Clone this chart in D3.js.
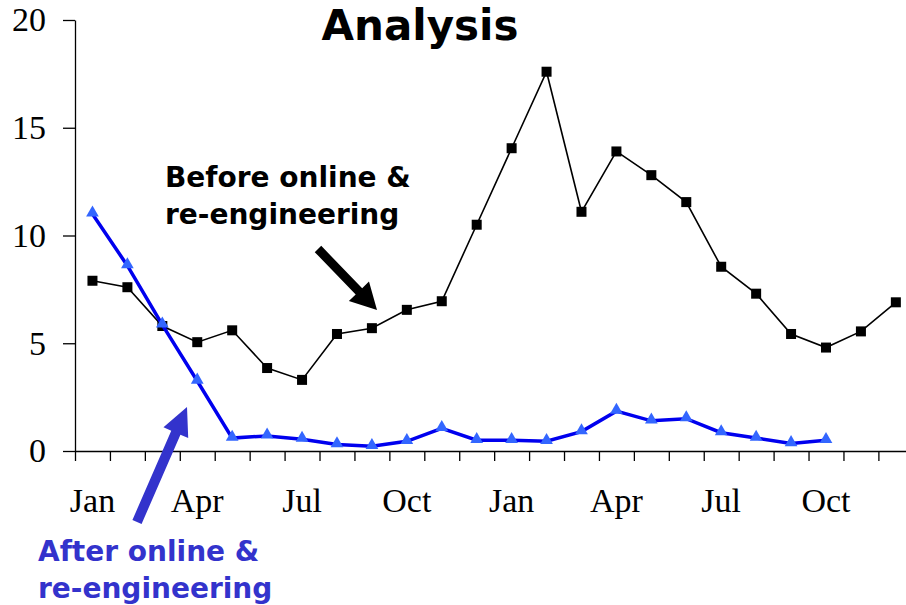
<!DOCTYPE html>
<html>
<head>
<meta charset="utf-8">
<script src="https://cdn.jsdelivr.net/npm/d3@7"></script>
<style>
  body { margin: 0; background: #fff; }
  svg { display: block; }
</style>
</head>
<body>
<div id="chart"></div>
<script>
const fig_width = 906
const fig_height = 605

// 24 months, two years
const month_names = ["Jan","Feb","Mar","Apr","May","Jun","Jul","Aug","Sep","Oct","Nov","Dec"]
const label_months = [0, 3, 6, 9, 12, 15, 18, 21]
const y_ticks = [0, 5, 10, 15, 20]

// before online & re-engineering (full 24 months)
const before_values = [7.9, 7.6, 5.8, 5.05, 5.6, 3.85, 3.3, 5.43, 5.7, 6.55, 6.95, 10.5,
    14.05, 17.6, 11.1, 13.9, 12.8, 11.55, 8.55, 7.3, 5.43, 4.8, 5.55, 6.9]
// after online & re-engineering (Jan .. Oct of second year)
const after_values = [11.0, 8.6, 5.85, 3.25, 0.6, 0.7, 0.55, 0.3, 0.22, 0.45, 1.05, 0.5,
    0.5, 0.45, 0.9, 1.85, 1.4, 1.5, 0.85, 0.6, 0.35, 0.5]

const margin = {left: 75, top: 20, bottom: 154}
const step = 34.93

let svg = d3.select("#chart")
    .append('svg')
    .attr('width', fig_width)
    .attr('height', fig_height)

let x_edge = d3.scaleLinear()
    .domain([0, 24])
    .range([margin.left, margin.left + 24 * step])
let x_band = d3.scaleBand()
    .domain(d3.range(24))
    .range([margin.left, margin.left + 24 * step])
let x_mid = i => x_band(i) + x_band.bandwidth() / 2

let y = d3.scaleLinear()
    .domain([0, 20])
    .range([fig_height - margin.bottom, margin.top])

const serif = "'Liberation Serif', 'Times New Roman', serif"
const sans = "'DejaVu Sans', Verdana, sans-serif"

// y axis
let yAxis = svg.append('g')
    .attr('transform', `translate(${margin.left},0)`)
    .call(d3.axisLeft(y).tickValues(y_ticks).tickSize(12).tickSizeOuter(0).tickPadding(17))
yAxis.selectAll('text')
    .style('font-family', serif)
    .style('font-size', '34px')
    .attr('fill', '#000')
yAxis.selectAll('line, path').attr('stroke', '#000').attr('stroke-width', 1.3)

// x axis: ticks on month boundaries, labels in the middle of the month
let xAxis = svg.append('g')
    .attr('transform', `translate(0,${y(0)})`)
    .call(d3.axisBottom(x_edge).tickValues(d3.range(25)).tickSize(10).tickSizeOuter(0).tickFormat(""))
xAxis.selectAll('line, path').attr('stroke', '#000').attr('stroke-width', 1.3)

let xLabels = svg.append('g')
    .attr('transform', `translate(0,${y(0)})`)
    .call(d3.axisBottom(x_band).tickValues(label_months).tickSize(0).tickPadding(37)
        .tickFormat(i => month_names[i % 12]))
xLabels.select('path').remove()
xLabels.selectAll('text')
    .style('font-family', serif)
    .style('font-size', '34px')
    .attr('fill', '#000')

// title
svg.append('text')
    .attr('x', 420)
    .attr('y', 40)
    .attr('text-anchor', 'middle')
    .style('font-family', sans)
    .style('font-weight', 'bold')
    .style('font-size', '42px')
    .text('Analysis')

// lines
let line_gen = d3.line()
    .x((d, i) => x_mid(i))
    .y(d => y(d))

svg.append('path')
    .datum(before_values)
    .attr('d', line_gen)
    .attr('fill', 'none')
    .attr('stroke', '#000')
    .attr('stroke-width', 1.6)

svg.selectAll('rect.before')
    .data(before_values)
    .join('rect')
    .attr('class', 'before')
    .attr('x', (d, i) => x_mid(i) - 5)
    .attr('y', d => y(d) - 5)
    .attr('width', 10)
    .attr('height', 10)
    .attr('fill', '#000')

svg.append('path')
    .datum(after_values)
    .attr('d', line_gen)
    .attr('fill', 'none')
    .attr('stroke', '#0000ee')
    .attr('stroke-width', 3.5)

let tri = d3.symbol().type(d3.symbolTriangle).size(70)
svg.selectAll('path.after')
    .data(after_values)
    .join('path')
    .attr('class', 'after')
    .attr('d', tri)
    .attr('transform', (d, i) => `translate(${x_mid(i)},${y(d) - 1})`)
    .attr('fill', '#3366ff')

// annotations
function arrow(x1, y1, x2, y2, shaft, headLen, headW, colour) {
    let dx = x2 - x1, dy = y2 - y1
    let len = Math.sqrt(dx * dx + dy * dy)
    let ux = dx / len, uy = dy / len
    let px = -uy, py = ux
    let bx = x2 - ux * headLen, by = y2 - uy * headLen
    let pts = [
        [x1 + px * shaft / 2, y1 + py * shaft / 2],
        [bx + px * shaft / 2, by + py * shaft / 2],
        [bx + px * headW / 2, by + py * headW / 2],
        [x2, y2],
        [bx - px * headW / 2, by - py * headW / 2],
        [bx - px * shaft / 2, by - py * shaft / 2],
        [x1 - px * shaft / 2, y1 - py * shaft / 2]
    ]
    svg.append('polygon')
        .attr('points', pts.map(p => p.join(',')).join(' '))
        .attr('fill', colour)
}

arrow(318, 249, 377, 310, 9, 26, 28, '#000')
arrow(137, 522, 187, 407, 10, 28, 27, '#3333cc')

let before_lbl = svg.append('text')
    .style('font-family', sans)
    .style('font-weight', 'bold')
    .style('font-size', '28px')
    .attr('fill', '#000')
before_lbl.append('tspan').attr('x', 165).attr('y', 187).text('Before online &')
before_lbl.append('tspan').attr('x', 165).attr('y', 224).text('re-engineering')

let after_lbl = svg.append('text')
    .style('font-family', sans)
    .style('font-weight', 'bold')
    .style('font-size', '28px')
    .attr('fill', '#3333cc')
after_lbl.append('tspan').attr('x', 38).attr('y', 561).text('After online &')
after_lbl.append('tspan').attr('x', 38).attr('y', 598).text('re-engineering')
</script>
</body>
</html>
